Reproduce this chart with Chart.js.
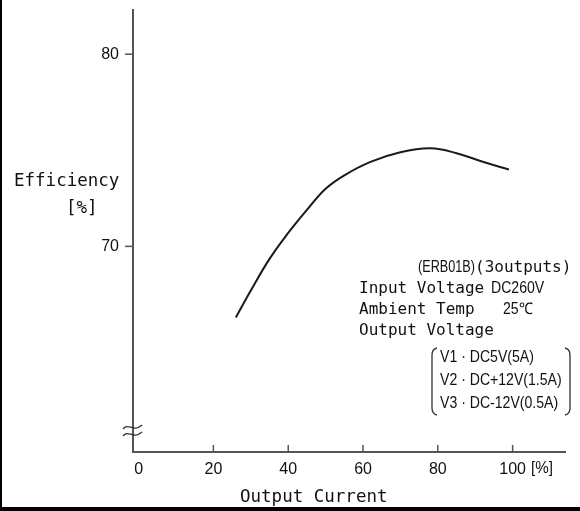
<!DOCTYPE html>
<html>
<head>
<meta charset="utf-8">
<script src="https://cdn.jsdelivr.net/npm/chart.js@4.4.1/dist/chart.umd.min.js"></script>
<style>
	html, body { margin: 0; padding: 0; background: #fff; }
	#wrap { width: 580px; height: 511px; position: relative; }
</style>
</head>
<body>
<div id="wrap"><canvas id="grafica"></canvas></div>
<script>
/* datos */
const corriente = [26, 30, 35, 40, 45, 50, 55, 62, 70, 78, 85, 92, 99];
const eficiencia = [66.3, 67.7, 69.35, 70.7, 71.9, 73.0, 73.7, 74.4, 74.9, 75.1, 74.85, 74.4, 74.0];
const ticksX = [0, 20, 40, 60, 80, 100];
const ticksY = [70, 80];

const mono = '"DejaVu Sans Mono", "Liberation Mono", monospace';
const narrow = '"Liberation Sans Narrow", "Liberation Sans", Arial, sans-serif';

// texto estrecho (escala horizontal)
function textoEstrecho(c, txt, x, y, k) {
	c.save();
	c.translate(x, y);
	c.scale(k, 1);
	c.fillText(txt, 0, 0);
	c.restore();
}

// dibuja marcas, textos y el marco
const extras = {
	id: "extras",
	afterDraw(chart) {
		const c = chart.ctx;
		const sx = chart.scales.x;
		const sy = chart.scales.y;
		const left = chart.chartArea.left;
		const bottom = chart.chartArea.bottom;
		c.save();
		c.strokeStyle = "#555";
		c.lineWidth = 1.5;
		// marcas del eje x hacia dentro
		ticksX.slice(1).forEach((v) => {
			const px = sx.getPixelForValue(v);
			c.beginPath();
			c.moveTo(px, bottom);
			c.lineTo(px, bottom - 7);
			c.stroke();
		});
		// marcas del eje y hacia fuera
		ticksY.forEach((v) => {
			const py = sy.getPixelForValue(v);
			c.beginPath();
			c.moveTo(left - 8, py);
			c.lineTo(left, py);
			c.stroke();
		});
		// corte del eje
		c.strokeStyle = "#333";
		c.lineWidth = 1.3;
		[427, 434].forEach((yy) => {
			c.beginPath();
			c.moveTo(left - 10, yy + 2);
			c.bezierCurveTo(left - 5, yy - 5, left, yy + 6, left + 9, yy - 2);
			c.stroke();
		});

		c.fillStyle = "#111";
		c.textBaseline = "middle";
		c.textAlign = "left";
		c.font = "16px " + narrow;
		textoEstrecho(c, "[%]", 531, 469, 0.95);

		c.font = "17.5px " + mono;
		c.fillText("Efficiency", 14, 181);
		c.fillText("[%]", 66, 208);
		c.fillText("Output Current", 240, 497);

		// anotacion
		c.font = "16px " + narrow;
		textoEstrecho(c, "(ERB01B)", 418, 268, 0.79);
		c.font = "16px " + mono;
		c.fillText("(3outputs)", 475, 268);
		c.fillText("Input Voltage", 359, 289);
		c.fillText("Ambient Temp", 359, 310);
		c.fillText("Output Voltage", 359, 331);
		c.font = "16px " + narrow;
		textoEstrecho(c, "DC260V", 491, 289, 0.88);
		textoEstrecho(c, "25℃", 503, 310, 0.88);
		textoEstrecho(c, "V1 · DC5V(5A)", 440, 358, 0.88);
		textoEstrecho(c, "V2 · DC+12V(1.5A)", 440, 381, 0.88);
		textoEstrecho(c, "V3 · DC-12V(0.5A)", 440, 404, 0.88);

		// corchetes
		c.strokeStyle = "#333";
		c.lineWidth = 1.3;
		c.beginPath();
		c.moveTo(437, 348);
		c.quadraticCurveTo(432, 349, 432, 355);
		c.lineTo(432, 408);
		c.quadraticCurveTo(432, 414, 437, 415);
		c.stroke();
		c.beginPath();
		c.moveTo(565, 348);
		c.quadraticCurveTo(570, 349, 570, 355);
		c.lineTo(570, 408);
		c.quadraticCurveTo(570, 414, 565, 415);
		c.stroke();

		// marco de la imagen
		c.fillStyle = "#000";
		c.fillRect(0, 0, 2, 511);
		c.fillRect(0, 507, 580, 4);
		c.restore();
	},
};

const ctx = document.getElementById("grafica").getContext("2d");
new Chart(ctx, {
	type: "scatter",
	data: {
		datasets: [
			{
				label: "Efficiency",
				data: corriente.map((x, i) => ({ x: x, y: eficiencia[i] })),
				showLine: true,
				borderColor: "#1a1a1a",
				borderWidth: 2,
				pointRadius: 0,
				tension: 0.4,
				fill: false,
			},
		],
	},
	options: {
		responsive: true,
		maintainAspectRatio: false,
		animation: false,
		layout: { padding: { top: 10, right: 15, left: 0, bottom: 0 } },
		plugins: {
			legend: { display: false },
			tooltip: { enabled: false },
		},
		scales: {
			x: {
				type: "linear",
				min: -1.5,
				max: 114,
				afterBuildTicks: (s) => { s.ticks = ticksX.map((v) => ({ value: v })); },
				afterFit: (s) => { s.height = 59; s.paddingLeft = 0; s.paddingRight = 0; },
				grid: { display: false, drawTicks: false },
				border: { display: true, color: "#555", width: 2 },
				ticks: {
					color: "#111",
					padding: 8,
					maxRotation: 0,
					font: { family: narrow, size: 16 },
					callback: (v) => String(v),
				},
			},
			y: {
				min: 59.3,
				max: 82.3,
				afterBuildTicks: (s) => { s.ticks = ticksY.map((v) => ({ value: v })); },
				afterFit: (s) => { s.width = 133; s.paddingTop = 0; s.paddingBottom = 0; },
				grid: { display: false, drawTicks: false },
				border: { display: true, color: "#555", width: 2 },
				ticks: {
					color: "#111",
					padding: 14,
					font: { family: narrow, size: 16 },
					callback: (v) => String(v),
				},
			},
		},
	},
	plugins: [extras],
});
</script>
</body>
</html>
